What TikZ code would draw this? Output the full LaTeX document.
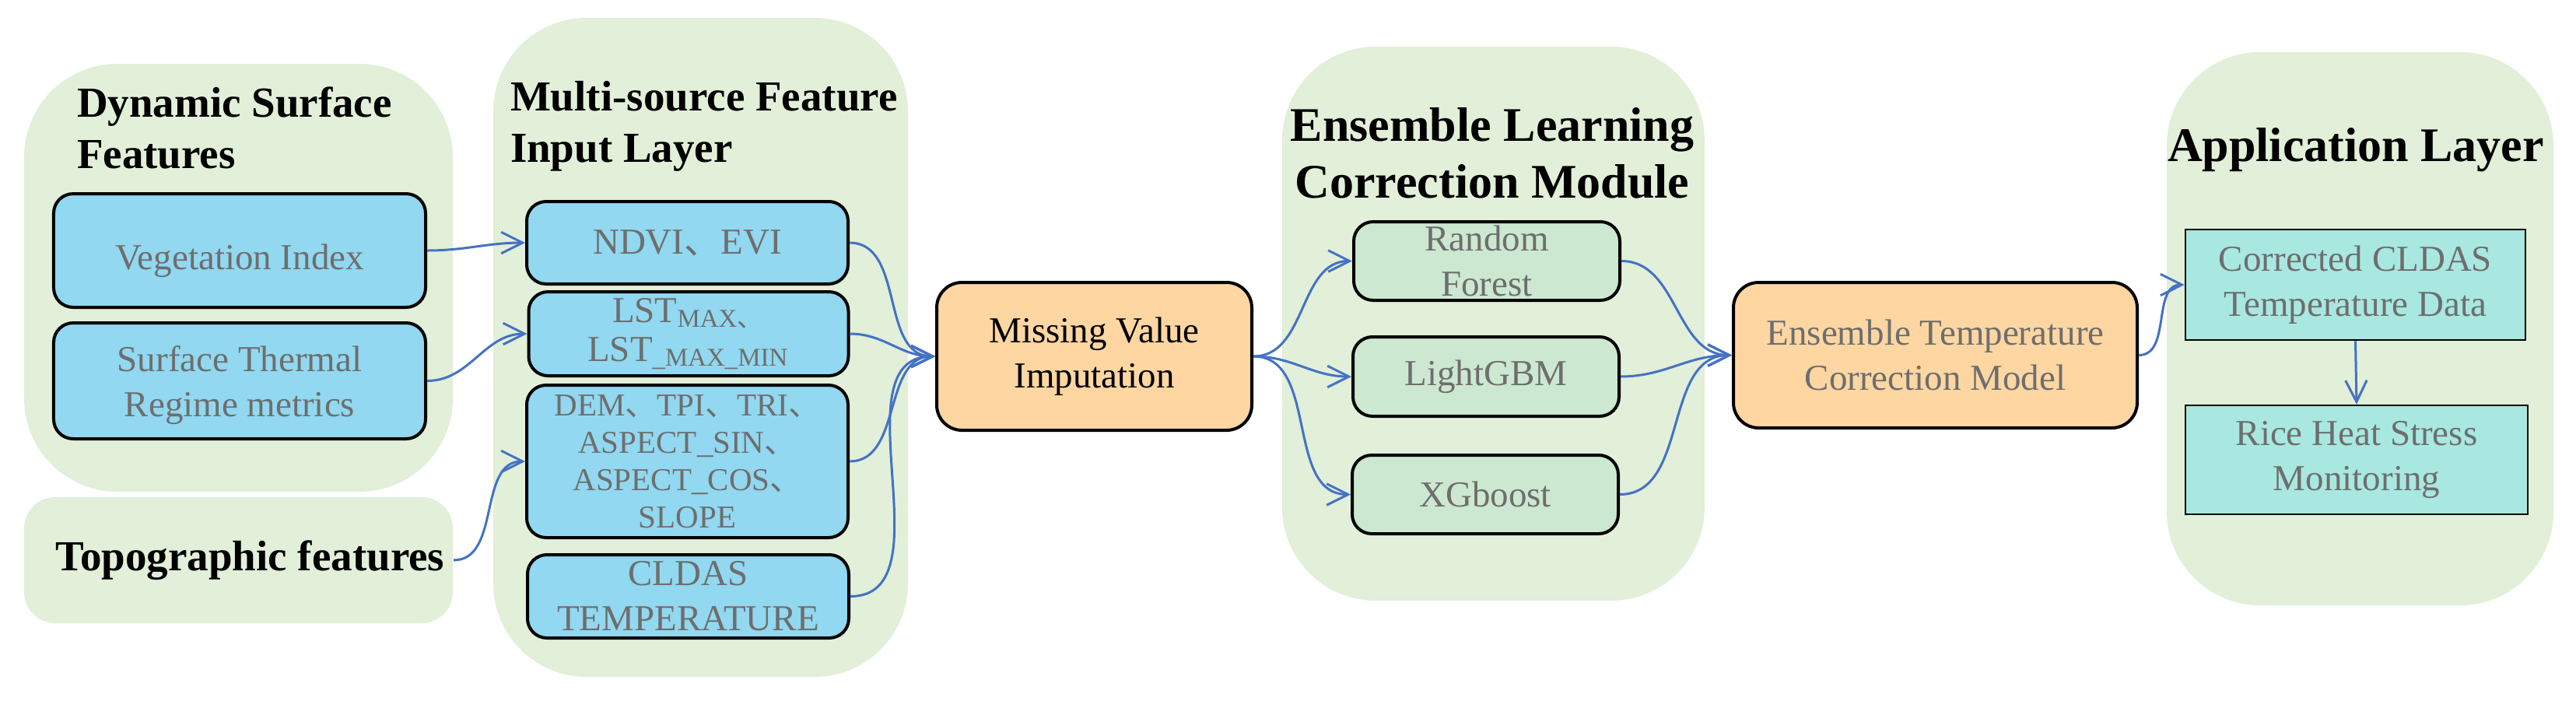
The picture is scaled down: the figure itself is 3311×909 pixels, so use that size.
\documentclass[tikz,border=0pt]{standalone}
\usepackage{fontspec}
\setmainfont{Liberation Serif}
\newfontfamily\cjkfont{Noto Sans CJK SC}
\usetikzlibrary{arrows.meta}
\newcommand{\cjkcomma}{{\cjkfont 、}}
\definecolor{contgreen}{RGB}{226,239,217}
\definecolor{boxblue}{RGB}{145,216,240}
\definecolor{boxorange}{RGB}{253,214,162}
\definecolor{boxgreen}{RGB}{204,232,208}
\definecolor{boxcyan}{RGB}{168,232,224}
\definecolor{txtgray}{RGB}{110,110,110}
\definecolor{arrowblue}{RGB}{68,114,196}
\begin{document}
\begin{tikzpicture}[x=0.2pt,y=-0.2pt,
  container/.style={fill=contgreen, rounded corners=24pt, inner sep=0pt},
  boxbase/.style={draw=black, line width=0.8pt, rounded corners=5pt, inner sep=0pt, align=center,
    text=txtgray, font=\fontsize{9.4pt}{11.6pt}\selectfont},
  blueb/.style={boxbase, fill=boxblue},
  orangeb/.style={boxbase, fill=boxorange, rounded corners=6.5pt},
  greenb/.style={boxbase, fill=boxgreen},
  cyanb/.style={draw=black, line width=0.5pt, fill=boxcyan, inner sep=0pt, align=center,
    text=txtgray, font=\fontsize{9.4pt}{11.6pt}\selectfont},
  ttl/.style={font=\bfseries\fontsize{11pt}{13.2pt}\selectfont, align=left, inner sep=0pt},
  bigttl/.style={font=\bfseries\fontsize{12.4pt}{14.6pt}\selectfont, align=center, inner sep=0pt},
  conn/.style={draw=arrowblue, line width=0.6pt, -{Straight Barb[length=5.5pt,width=5.5pt]}}
]
\useasboundingbox (0,0) rectangle (3311,909);

% containers
\node[container, minimum width=110.2pt, minimum height=110pt] (dsf) at (306.5,357) {};
\node[container, rounded corners=8pt, minimum width=110.2pt, minimum height=32.4pt,
      font=\bfseries\fontsize{11pt}{13.2pt}\selectfont] (topo) at (306.5,720) {\hspace*{6pt}Topographic features};
\node[container, minimum width=106.6pt, minimum height=169.4pt] (msf) at (900.5,446.5) {};
\node[container, minimum width=108.6pt, minimum height=142.4pt] (elcm) at (1919.5,416) {};
\node[container, minimum width=99.4pt, minimum height=142.2pt] (app) at (3033.5,422.5) {};

% titles (base anchor = baseline of the last line)
\node[ttl, anchor=base west] (dsft) at (98,216) {Dynamic Surface\\Features};
\node[ttl, anchor=base west] (msft) at (655,208) {Multi-source Feature\\Input Layer};
\node[bigttl, anchor=base] (elcmt) at (1918,254) {Ensemble Learning\\Correction Module};
\node[bigttl, anchor=base] (appt) at (3028,207) {Application Layer};

% boxes
\node[blueb, minimum width=95.6pt, minimum height=29.2pt, text height=12pt] (vi) at (308,322) {Vegetation Index};
\node[blueb, minimum width=95.6pt, minimum height=29.8pt, text depth=-2pt] (st) at (308,489.5) {Surface Thermal\\Regime metrics};

\node[blueb, minimum width=82.6pt, minimum height=21.2pt] (ndvi) at (883.5,312) {NDVI\cjkcomma EVI};
\node[blueb, minimum width=82.2pt, minimum height=21.6pt] (lst) at (885,429)
  {LST\textsubscript{MAX\cjkcomma}\\[-1.5pt]LST\textsubscript{\_MAX\_MIN}};
\node[blueb, minimum width=82.6pt, minimum height=39.2pt, font=\fontsize{8.2pt}{9.6pt}\selectfont] (dem) at (883.5,593)
  {DEM\cjkcomma TPI\cjkcomma TRI\cjkcomma\\ASPECT\_SIN\cjkcomma\\ASPECT\_COS\cjkcomma\\SLOPE};
\node[blueb, minimum width=82.6pt, minimum height=21.4pt] (cldas) at (884.5,766.5) {CLDAS\\TEMPERATURE};

\node[orangeb, minimum width=81pt, minimum height=38pt, text=black] (mvi) at (1406.5,458) {Missing Value\\Imputation};

\node[greenb, minimum width=68.4pt, minimum height=20.2pt] (rf) at (1911,335.5) {Random\\Forest};
\node[greenb, minimum width=68.4pt, minimum height=20.4pt] (lgbm) at (1910,484) {LightGBM};
\node[greenb, minimum width=68.4pt, minimum height=20.2pt] (xgb) at (1909,635.5) {XGboost};

\node[orangeb, minimum width=103.8pt, minimum height=37.4pt] (etcm) at (2487.5,456.5) {Ensemble Temperature\\Correction Model};

\node[cyanb, minimum width=87.4pt, minimum height=28.4pt] (cctd) at (3027.5,366) {Corrected CLDAS\\Temperature Data};
\node[cyanb, minimum width=88pt, minimum height=28pt] (rhsm) at (3029,591) {Rice Heat Stress\\Monitoring};

% connectors
\draw[conn] (vi.east) to[out=0,in=180] (ndvi.west);
\draw[conn] (st.east) to[out=0,in=180] (lst.west);
\draw[conn] (topo.east) to[out=0,in=180] (dem.west);

\draw[conn] (ndvi.east) to[out=0,in=180] (mvi.west);
\draw[conn] (lst.east) to[out=0,in=180] (mvi.west);
\draw[conn] (dem.east) to[out=0,in=180] (mvi.west);
\draw[conn] (cldas.east) to[out=0,in=180] (mvi.west);

\draw[conn] (mvi.east) to[out=0,in=180] (rf.west);
\draw[conn] (mvi.east) to[out=0,in=180] (lgbm.west);
\draw[conn] (mvi.east) to[out=0,in=180] (xgb.west);

\draw[conn] (rf.east) to[out=0,in=180] (etcm.west);
\draw[conn] (lgbm.east) to[out=0,in=180] (etcm.west);
\draw[conn] (xgb.east) to[out=0,in=180] (etcm.west);

\draw[conn] (etcm.east) to[out=0,in=180] (cctd.west);
\draw[conn] (cctd.south) -- (rhsm.north);
\end{tikzpicture}
\end{document}
